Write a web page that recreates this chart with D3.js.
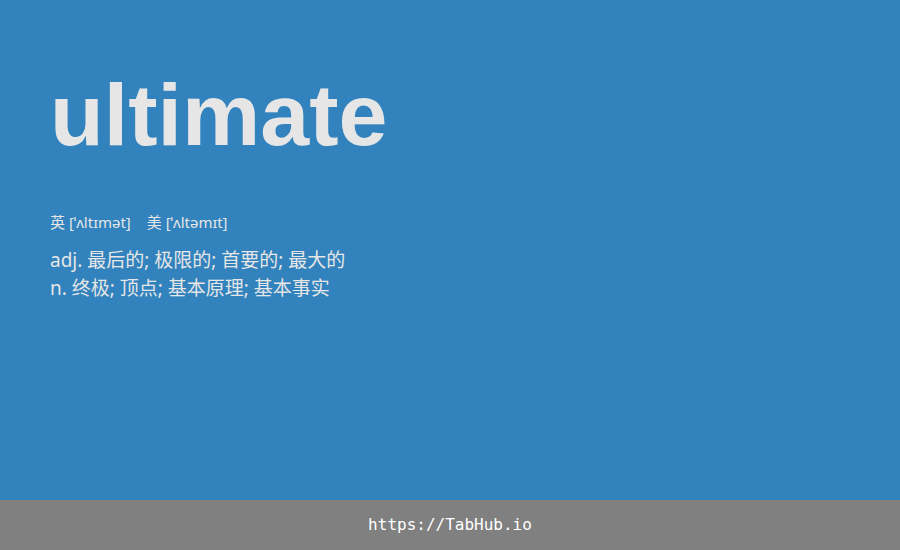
<!DOCTYPE html>
<html lang="zh">
<head>
<meta charset="UTF-8">
<script src="https://d3js.org/d3.v7.min.js"></script>
<style>
  body { margin: 0; background: #3182bd; }
  svg { display: block; }
</style>
</head>
<body>
<svg id="card"></svg>
<script>
const word = "ultimate";
const phonetics = ["英 [ˈʌltɪmət]", "美 [ˈʌltəmɪt]"];
const definitions = ["adj. 最后的; 极限的; 首要的; 最大的", "n. 终极; 顶点; 基本原理; 基本事实"];
const footer = "https://TabHub.io";

const width = 900, height = 550;
const svg = d3.select("#card").attr("width", width).attr("height", height);

svg.append("rect").attr("width", width).attr("height", height).attr("fill", "#3182bd");

svg.append("text")
    .attr("x", 50).attr("y", 145)
    .attr("font-family", "'Liberation Sans', Arial, sans-serif")
    .attr("font-weight", "bold").attr("font-size", 88)
    .attr("fill", "#e6e6e6")
    .text(word);

const phon = svg.append("text")
    .attr("x", 50).attr("y", 228)
    .attr("font-family", "'Noto Sans', 'Noto Sans CJK SC', sans-serif")
    .attr("font-size", 15).attr("fill", "#e6e6e6");
phonetics.forEach((p, i) => {
    phon.append("tspan").attr("dx", i ? 16 : 0).text(p);
});

const y = d3.scaleLinear().domain([0, 1]).range([267, 295]);
svg.selectAll(".def")
    .data(definitions)
    .enter().append("text")
    .attr("class", "def")
    .attr("x", 50).attr("y", (d, i) => y(i))
    .attr("font-family", "'Noto Sans', 'Noto Sans CJK SC', sans-serif")
    .attr("font-size", 19).attr("fill", "#e6e6e6")
    .text(d => d);

svg.append("rect").attr("y", 500).attr("width", width).attr("height", 50).attr("fill", "#808080");
svg.append("text")
    .attr("x", width / 2).attr("y", 530)
    .attr("text-anchor", "middle")
    .attr("font-family", "'DejaVu Sans Mono', monospace")
    .attr("font-size", 16).attr("fill", "#ffffff")
    .text(footer);
</script>
</body>
</html>
